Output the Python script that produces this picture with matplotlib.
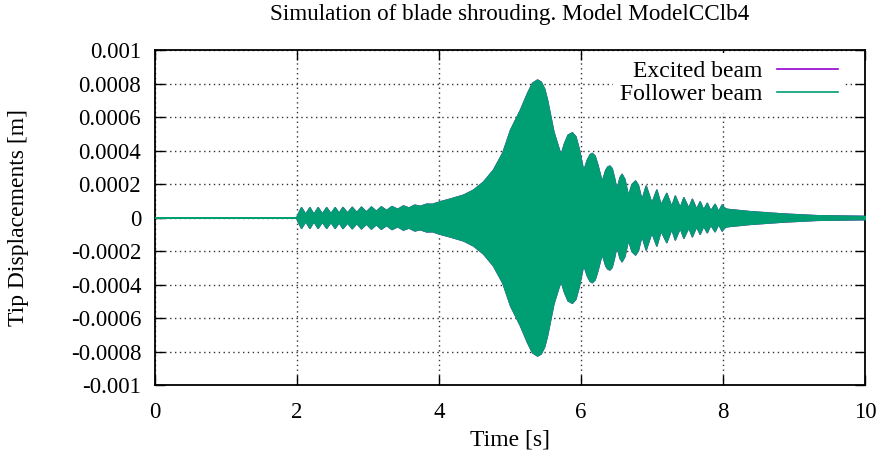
import numpy as np
import matplotlib
matplotlib.use('Agg')
import matplotlib.pyplot as plt
from matplotlib.ticker import FuncFormatter

plt.rcParams.update({'font.family': 'Liberation Serif', 'font.size': 16.5,
                     'axes.unicode_minus': False})

# envelope of the tip response, amplitude in 1e-4 m, read at peaks and necks
t_env = [0.00, 1.99, 2.00, 2.056, 2.115, 2.174, 2.23, 2.29, 2.35, 2.41, 2.47,
         2.53, 2.585, 2.64, 2.705, 2.77, 2.835, 2.90, 2.97, 3.04, 3.11, 3.18,
         3.255, 3.33, 3.41, 3.49, 3.57, 3.65, 3.73, 3.82, 3.90, 4.01, 4.15,
         4.34, 4.48, 4.62, 4.76, 4.89, 5.00, 5.14, 5.24, 5.31, 5.38, 5.43,
         5.48, 5.52, 5.61, 5.71, 5.76, 5.81, 5.87, 5.92, 5.97, 6.03, 6.08,
         6.12, 6.15, 6.19, 6.23, 6.29, 6.34, 6.37, 6.40, 6.43, 6.46, 6.50,
         6.54, 6.57, 6.61, 6.66, 6.71, 6.76, 6.80, 6.85, 6.91, 6.99, 7.06,
         7.12, 7.20, 7.27, 7.32, 7.39, 7.44, 7.51, 7.56, 7.62, 7.67, 7.72,
         7.77, 7.82, 7.88, 7.93, 7.98, 8.01, 8.05, 8.38, 8.85, 9.32, 10.0]
amp_env = [0.0, 0.0, 0.15, 0.62, 0.22, 0.62, 0.22, 0.62, 0.24, 0.62, 0.26,
           0.62, 0.28, 0.63, 0.30, 0.64, 0.33, 0.65, 0.36, 0.66, 0.40, 0.67,
           0.45, 0.69, 0.52, 0.72, 0.60, 0.77, 0.70, 0.83, 0.82, 0.97, 1.13,
           1.37, 1.67, 2.15, 2.87, 3.88, 5.25, 6.45, 7.45, 8.05, 8.24, 8.12,
           7.70, 7.04, 5.13, 3.76, 4.45, 4.95, 5.09, 4.85, 4.05, 2.80, 3.45,
           3.78, 3.86, 3.70, 3.15, 2.15, 2.85, 3.05, 3.10, 2.95, 2.45, 1.67,
           2.40, 2.61, 2.30, 1.31, 2.00, 2.21, 1.95, 1.07, 1.91, 0.88, 1.67,
           0.78, 1.47, 0.67, 1.31, 0.61, 1.21, 0.58, 1.12, 0.52, 0.97, 0.48,
           0.88, 0.42, 0.82, 0.38, 0.78, 0.60, 0.52, 0.38, 0.24, 0.14, 0.10]

yticks = [-0.001, -0.0008, -0.0006, -0.0004, -0.0002, 0, 0.0002, 0.0004,
          0.0006, 0.0008, 0.001]
xticks = [0, 2, 4, 6, 8, 10]

t = np.array(t_env)
a = np.array(amp_env) * 1e-4

fig = plt.figure(figsize=(8.81, 4.57), dpi=100)
ax = fig.add_axes([0.176, 0.1575, 0.806, 0.733])

ax.fill_between(t, -a, a, color='#9400d3', linewidth=1.0, zorder=2)
ax.fill_between(t, -a, a, facecolor='#009e73', edgecolor='#009e73',
                linewidth=1.0, zorder=3)

ax.set_xlim(0, 10)
ax.set_ylim(-0.001, 0.001)
ax.set_xticks(xticks)
ax.set_yticks(yticks)
ax.yaxis.set_major_formatter(FuncFormatter(lambda v, p: '%g' % v))
ax.tick_params(direction='in', length=7, width=1, top=True, right=True,
               labelsize=16.5)
ax.tick_params(axis='y', pad=10)
ax.tick_params(axis='x', pad=12)
ax.grid(True, linestyle=(0, (1, 2.5)), color='#333333', linewidth=1)
ax.set_axisbelow(True)
for s in ax.spines.values():
    s.set_linewidth(1.3)

ax.text(0.5, 1.105, 'Simulation of blade shrouding. Model ModelCClb4',
        transform=ax.transAxes, ha='center', va='center', fontsize=16.7)
ax.set_xlabel('Time [s]', fontsize=17)
ax.xaxis.set_label_coords(0.5, -0.133)
ax.set_ylabel('Tip Displacements [m]', fontsize=17)
ax.yaxis.set_label_coords(-0.178, 0.5)

h1 = plt.Line2D([], [], color='#9400d3', lw=1.2)
h2 = plt.Line2D([], [], color='#009e73', lw=1.2)
leg = ax.legend([h1, h2], ['Excited beam', 'Follower beam'], loc='upper right',
                bbox_to_anchor=(0.972, 0.99), fontsize=17,
                markerfirst=False, handlelength=2.6, handletextpad=0.6,
                labelspacing=0.08, borderpad=0.3, borderaxespad=0,
                fancybox=False, framealpha=1, edgecolor='none')
leg.set_zorder(5)

fig.savefig('out.png', dpi=100)
